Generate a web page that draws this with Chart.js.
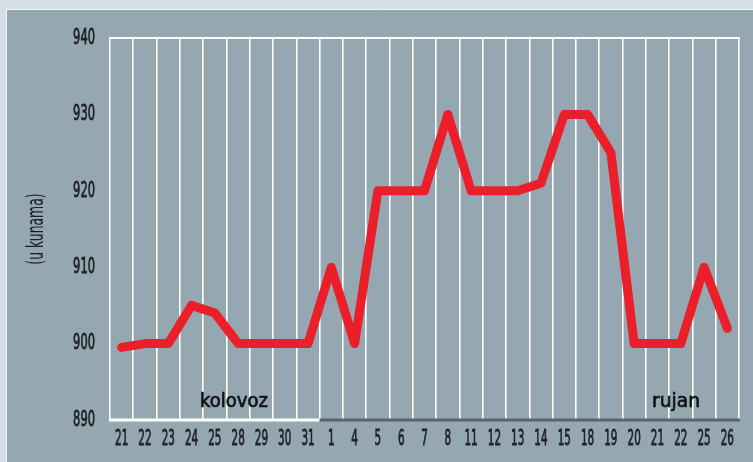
<!DOCTYPE html>
<html>
<head>
<meta charset="utf-8">
<script src="https://cdn.jsdelivr.net/npm/chart.js@4"></script>
<style>
  html, body { margin: 0; padding: 0; background: #d4dfe6; }
  #wrap { width: 753px; height: 462px; position: relative; }
</style>
</head>
<body>
<div id="wrap"><canvas id="c" width="753" height="462"></canvas></div>
<script>
const days = ["21","22","23","24","25","28","29","30","31","1","4","5","6","7","8","11","12","13","14","15","18","19","20","21","22","25","26"];
const prices = [899.5,900,900,905,904,900,900,900,900,910,900,920,920,920,930,920,920,920,921,930,930,925,900,900,900,910,902];
const yTicks = [890,900,910,920,930,940];
const months = [{name:"kolovoz", at:4.82, w:68}, {name:"rujan", at:23.8, w:48}];
const augustCount = 9;

const FONT = "'DejaVu Sans', sans-serif";
const INK = '#1c2025';

// horizontally squeeze text drawn by a scale method (keeps text as real canvas text)
function squeeze(scale, method, factor) {
  const key = '_sq_' + method;
  if (scale[key]) return;
  scale[key] = true;
  const orig = scale[method];
  scale[method] = function (...args) {
    const ctx = this.ctx;
    const P = CanvasRenderingContext2D.prototype;
    const wrap = (fn) => function (t, x, y, mw) {
      const w = P.measureText.call(ctx, t).width * factor;
      const m = (mw === undefined || mw === null) ? w : Math.min(mw, w);
      return fn.call(ctx, t, x, y, m);
    };
    ctx.fillText = wrap(P.fillText);
    ctx.strokeText = wrap(P.strokeText);
    try { return orig.apply(this, args); } finally { delete ctx.fillText; delete ctx.strokeText; }
  };
}

const decor = {
  id: 'decor',
  beforeDraw(chart) {
    squeeze(chart.scales.x, 'drawLabels', 0.55);
    squeeze(chart.scales.y, 'drawLabels', 0.58);
    squeeze(chart.scales.y, 'drawTitle', 0.6);
    const ctx = chart.ctx;
    ctx.save();
    ctx.fillStyle = '#d4dfe6';
    ctx.fillRect(0, 0, chart.width, chart.height);
    ctx.fillStyle = '#95a8b2';
    ctx.fillRect(7, 10, chart.width - 7, chart.height - 10);
    ctx.strokeStyle = '#f4f7f9';
    ctx.lineWidth = 1;
    ctx.beginPath();
    ctx.moveTo(6.5, chart.height);
    ctx.lineTo(6.5, 9.5);
    ctx.lineTo(chart.width, 9.5);
    ctx.stroke();
    ctx.restore();
  },
  beforeDatasetsDraw(chart) {
    const ctx = chart.ctx;
    const a = chart.chartArea;
    const x = chart.scales.x;
    ctx.save();
    ctx.strokeStyle = '#ffffff';
    ctx.lineWidth = 2;
    ctx.beginPath();
    ctx.moveTo(a.left - 1, a.top);
    ctx.lineTo(a.right + 1, a.top);
    ctx.stroke();
    const split = (x.getPixelForValue(augustCount - 1) + x.getPixelForValue(augustCount)) / 2;
    ctx.lineWidth = 3;
    ctx.strokeStyle = '#ffffff';
    ctx.beginPath();
    ctx.moveTo(a.left - 1, a.bottom);
    ctx.lineTo(split, a.bottom);
    ctx.stroke();
    ctx.strokeStyle = '#5d6169';
    ctx.beginPath();
    ctx.moveTo(split, a.bottom);
    ctx.lineTo(a.right + 1, a.bottom);
    ctx.stroke();
    ctx.fillStyle = '#0e1114';
    ctx.strokeStyle = '#0e1114';
    ctx.lineWidth = 0.7;
    ctx.font = "20px 'DejaVu Sans', sans-serif";
    ctx.textAlign = 'center';
    ctx.textBaseline = 'alphabetic';
    months.forEach(m => {
      const px = x.getPixelForDecimal((m.at + 0.5) / days.length);
      ctx.strokeText(m.name, px, 407, m.w);
      ctx.fillText(m.name, px, 407, m.w);
    });
    ctx.restore();
  }
};

new Chart(document.getElementById('c'), {
  type: 'line',
  data: {
    labels: days,
    datasets: [{
      data: prices,
      borderColor: '#ea1f29',
      borderWidth: 9,
      borderJoinStyle: 'round',
      borderCapStyle: 'round',
      pointRadius: 0,
      tension: 0,
      fill: false
    }]
  },
  options: {
    responsive: false,
    animation: false,
    devicePixelRatio: 1,
    layout: { padding: { left: 0, top: 38, right: 14, bottom: 0 } },
    plugins: { legend: { display: false }, tooltip: { enabled: false } },
    scales: {
      x: {
        type: 'category',
        offset: true,
        grid: { display: true, offset: true, color: '#ffffff', lineWidth: 1.6, drawTicks: false },
        border: { display: false },
        ticks: { color: INK, textStrokeColor: INK, textStrokeWidth: 0.8, font: { family: FONT, size: 21, weight: 'condensed' }, padding: 7, maxRotation: 0, autoSkip: false },
        afterFit(s) { s.height = 42; }
      },
      y: {
        min: 890, max: 940,
        afterBuildTicks(s) { s.ticks = yTicks.map(v => ({ value: v })); },
        grid: { display: false, drawTicks: false },
        border: { display: false },
        ticks: { color: INK, textStrokeColor: INK, textStrokeWidth: 0.8, font: { family: FONT, size: 22, weight: 'condensed' }, padding: 15 },
        title: { display: true, text: '(u kunama)', color: INK, font: { family: FONT, size: 23, weight: 'condensed' }, padding: { top: 23, bottom: 0 } },
        afterFit(s) { s.width = 110; }
      }
    }
  },
  plugins: [decor]
});
</script>
</body>
</html>
